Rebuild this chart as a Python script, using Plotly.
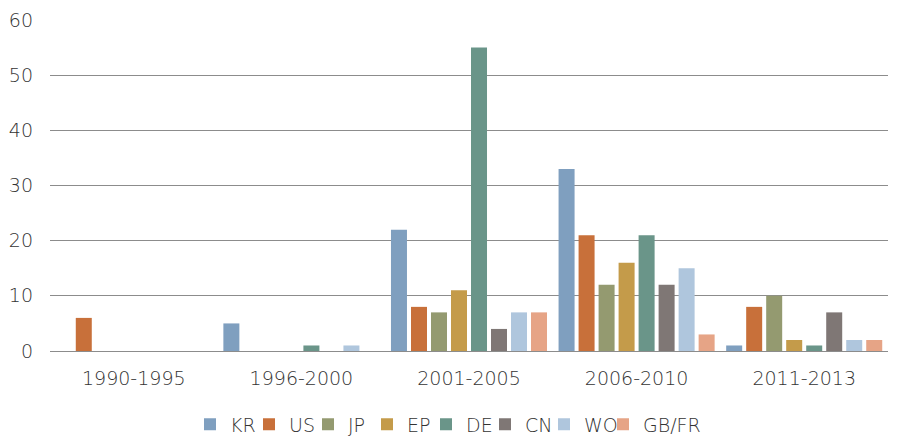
import plotly.graph_objects as go

periods = ["1990-1995", "1996-2000", "2001-2005", "2006-2010", "2011-2013"]
series_names = ["KR", "US", "JP", "EP", "DE", "CN", "WO", "GB/FR"]
KR = [0, 5, 22, 33, 1]
US = [6, 0, 8, 21, 8]
JP = [0, 0, 7, 12, 10]
EP = [0, 0, 11, 16, 2]
DE = [0, 1, 55, 21, 1]
CN = [0, 0, 4, 12, 7]
WO = [0, 1, 7, 15, 2]
GBFR = [0, 0, 7, 3, 2]
y_ticks = [0, 10, 20, 30, 40, 50, 60]

values = [KR, US, JP, EP, DE, CN, WO, GBFR]
colors = ["#7F9FBF", "#C8703A", "#949A70", "#C49B4A", "#6A9589", "#7F7775", "#AFC6DD", "#E6A486"]

fig = go.Figure()
for name, vals, col in zip(series_names, values, colors):
    fig.add_trace(go.Bar(x=periods, y=vals, name=name, marker=dict(color=col, line=dict(width=0))))

# invisible spacer entry so the last legend label is not clipped
fig.add_trace(go.Scatter(x=[None], y=[None], mode="markers", name=" ",
                         marker=dict(opacity=0, color="white"), hoverinfo="skip"))

txt = dict(family="DejaVu Sans", size=19, color="#333333", weight=300)

fig.update_layout(
    width=909, height=442,
    margin=dict(l=50, r=21, t=20, b=91, autoexpand=False),
    paper_bgcolor="white", plot_bgcolor="white",
    barmode="group", bargap=0.045, bargroupgap=0.2,
    font=txt,
    showlegend=True,
    legend=dict(orientation="h", x=190 / 909, xanchor="left", xref="container",
                y=0.04, yanchor="middle", yref="container",
                font=txt, itemwidth=30,
                entrywidth=14, entrywidthmode="pixels", tracegroupgap=0),
    xaxis=dict(showgrid=False, showline=False, ticks="", tickfont=txt,
               ticklabelstandoff=14, automargin=False),
    yaxis=dict(range=[0, 60], tickvals=y_ticks, showgrid=True, gridcolor="#8C8C8C", gridwidth=1,
               zeroline=True, zerolinecolor="#8C8C8C", zerolinewidth=1, showline=False,
               ticks="", ticklabelstandoff=16, tickfont=txt, automargin=False),
)

fig.write_html("out.html", config={"displayModeBar": False},
               post_script="document.body.style.margin='0px';document.body.style.overflow='hidden';")
